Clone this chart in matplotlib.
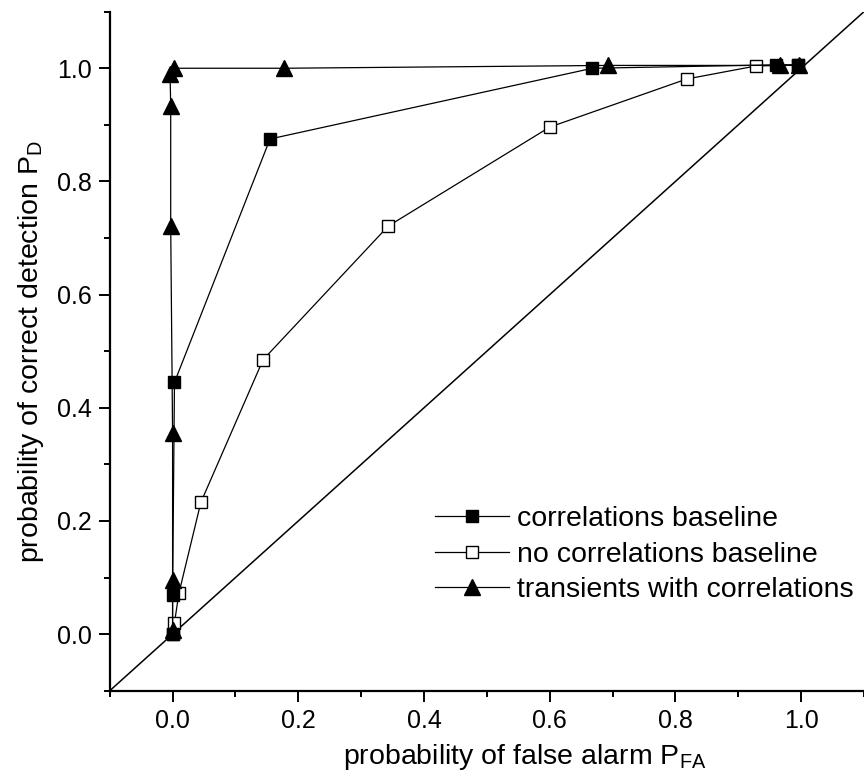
import matplotlib
matplotlib.use("Agg")
import matplotlib.pyplot as plt
from matplotlib.ticker import MultipleLocator

plt.rcParams['font.family'] = ['Liberation Sans', 'DejaVu Sans']
plt.rcParams['mathtext.fontset'] = 'custom'
plt.rcParams['mathtext.rm'] = 'Liberation Sans'
plt.rcParams['mathtext.default'] = 'regular'

# ROC points: (P_FA, P_D)
corr_x = [0.0, 0.0, 0.003, 0.155, 0.668, 0.96, 0.995]
corr_y = [0.0, 0.07, 0.445, 0.875, 1.0, 1.006, 1.006]

nocorr_x = [0.0, 0.003, 0.01, 0.045, 0.144, 0.343, 0.60, 0.818, 0.928, 0.995]
nocorr_y = [0.0, 0.02, 0.072, 0.233, 0.485, 0.721, 0.896, 0.981, 1.004, 1.006]

trans_x = [0.0, 0.0, 0.0, -0.003, -0.003, -0.004, 0.003, 0.178, 0.693, 0.966, 0.997]
trans_y = [0.007, 0.096, 0.355, 0.721, 0.934, 0.99, 1.0, 1.0, 1.005, 1.005, 1.005]

chance = [-0.1, 1.1]

labels = ["correlations baseline", "no correlations baseline",
          "transients with correlations"]

fig = plt.figure(figsize=(8.64, 7.77), dpi=100)
ax = fig.add_axes([0.127, 0.111, 0.873, 0.874])

ax.plot(chance, chance, color='black', lw=1.1, zorder=1)
l1, = ax.plot(corr_x, corr_y, color='black', lw=0.9, marker='s', ms=8.5,
              mfc='black', mec='black', zorder=3)
l2, = ax.plot(nocorr_x, nocorr_y, color='black', lw=0.9, marker='s', ms=8.5,
              mfc='white', mec='black', mew=1.0, zorder=2)
l3, = ax.plot(trans_x, trans_y, color='black', lw=0.9, marker='^', ms=11,
              mfc='black', mec='black', zorder=4)

ax.set_xlim(-0.1, 1.1)
ax.set_ylim(-0.1, 1.1)

for side in ('top', 'right'):
    ax.spines[side].set_visible(False)
for side in ('left', 'bottom'):
    ax.spines[side].set_linewidth(1.6)

ax.xaxis.set_minor_locator(MultipleLocator(0.1))
ax.yaxis.set_minor_locator(MultipleLocator(0.1))
ticks = [0.0, 0.2, 0.4, 0.6, 0.8, 1.0]
tick_text = ['0.0', '0.2', '0.4', '0.6', '0.8', '1.0']
ax.set_xticks(ticks)
ax.set_yticks(ticks)
ax.set_xticklabels(tick_text)
ax.set_yticklabels(tick_text)
ax.tick_params(which='major', direction='out', length=8, width=1.4,
               labelsize=18, pad=5)
ax.tick_params(which='minor', direction='out', length=4.5, width=1.4)

ax.set_xlabel(r'probability of false alarm P$_{FA}$', fontsize=20.5)
ax.xaxis.set_label_coords(0.55, -0.075)
ax.set_ylabel(r'probability of correct detection P$_{D}$', fontsize=20.5)
ax.yaxis.set_label_coords(-0.084, 0.5)

fig.legend([l1, l2, l3], labels, loc='center left',
           bbox_to_anchor=(0.503, 0.286), bbox_transform=fig.transFigure,
           frameon=False, fontsize=20.5, handlelength=2.6, handletextpad=0.3,
           labelspacing=0.34, borderpad=0, borderaxespad=0)

fig.savefig('out.png', dpi=100)
